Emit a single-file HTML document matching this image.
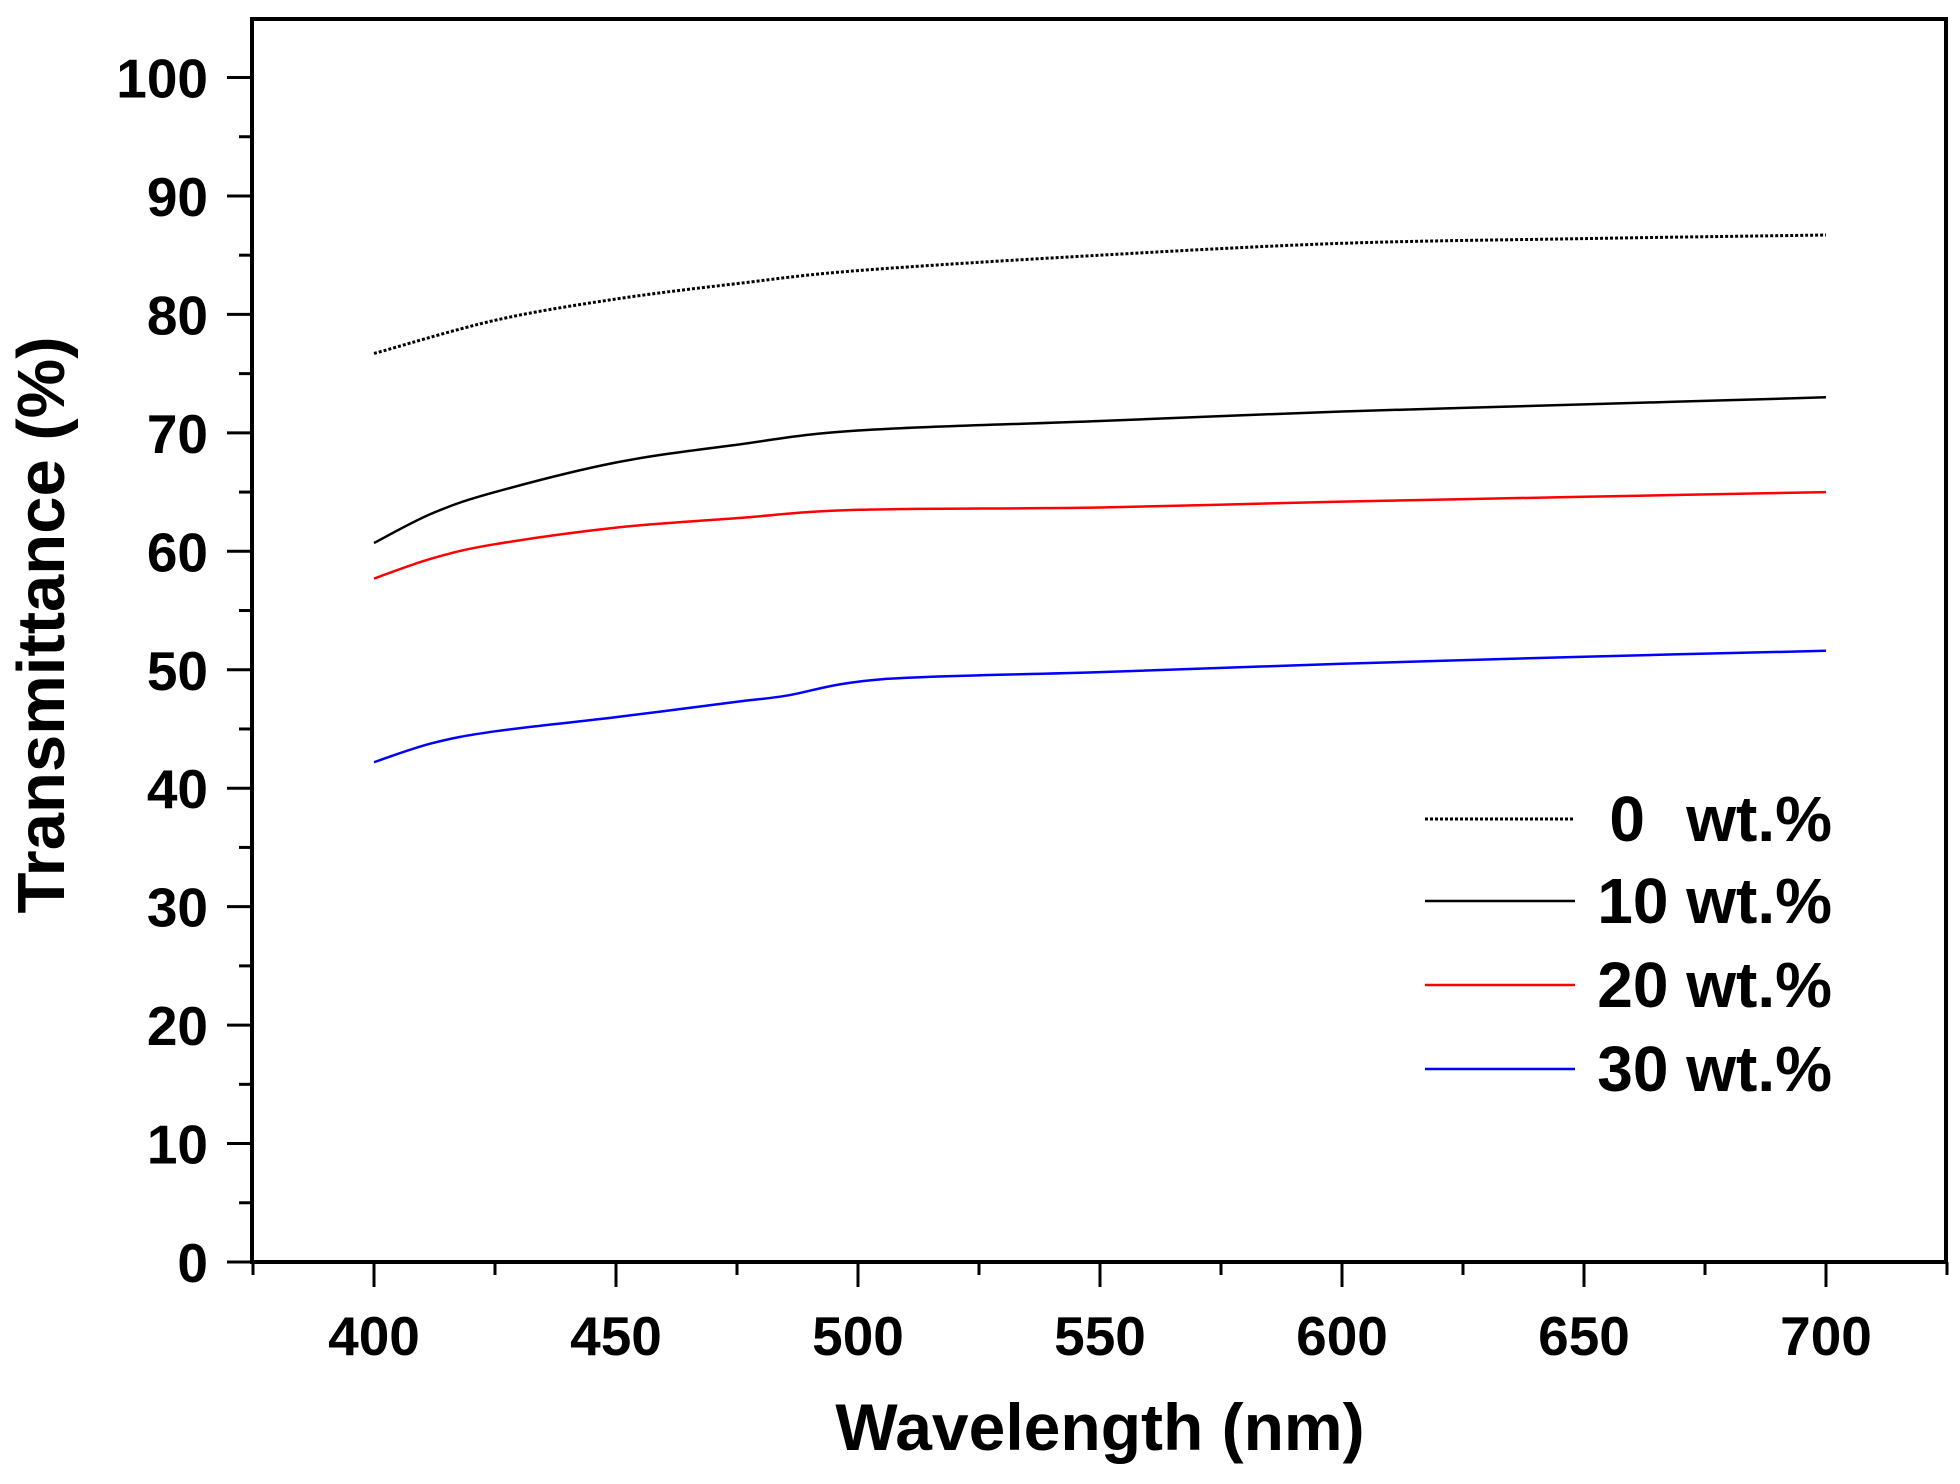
<!DOCTYPE html>
<html><head><meta charset="utf-8"><style>
html,body{margin:0;padding:0;background:#fff;}
svg{display:block;font-family:"Liberation Sans",Arial,sans-serif;font-weight:bold;}
</style></head><body>
<svg id="s" width="1960" height="1484" viewBox="0 0 1960 1484" xmlns="http://www.w3.org/2000/svg">
<rect width="1960" height="1484" fill="#fff"/>
<g id="g"></g>
<rect x="252" y="19" width="1694" height="1243" fill="none" stroke="#000" stroke-width="4"/>
<text x="1100" y="1450" font-size="66" text-anchor="middle">Wavelength (nm)</text>
<text transform="translate(64,625) rotate(-90)" font-size="67" text-anchor="middle">Transmittance (%)</text>
<g font-size="64" text-anchor="end">
<text x="1645" y="841">0</text>
<text x="1832" y="841">wt.%</text>
<text x="1832" y="923">10 wt.%</text>
<text x="1832" y="1007">20 wt.%</text>
<text x="1832" y="1091">30 wt.%</text>
</g>
<line x1="1425" y1="819" x2="1575" y2="819" stroke="#000" stroke-width="3" stroke-dasharray="3,2"/>
<line x1="1425" y1="901" x2="1575" y2="901" stroke="#000" stroke-width="2.5"/>
<line x1="1425" y1="985" x2="1575" y2="985" stroke="#f00" stroke-width="2.5"/>
<line x1="1425" y1="1069" x2="1575" y2="1069" stroke="#00f" stroke-width="2.5"/>
</svg>
<script>
var g=document.getElementById('g'),ns='http://www.w3.org/2000/svg';
function X(w){return 374+(w-400)*4.84;}function Y(v){return 1262-v*11.845;}
function el(t,a,txt){var e=document.createElementNS(ns,t);for(var k in a)e.setAttribute(k,a[k]);if(txt!=null)e.textContent=txt;g.appendChild(e);return e;}
for(var v=0;v<=100;v+=5){var y=Y(v),maj=v%10==0;el('line',{x1:252-(maj?25:13),y1:y,x2:252,y2:y,stroke:'#000','stroke-width':3});
if(maj)el('text',{x:208,y:y+20,'font-size':55,'text-anchor':'end'},v);}
for(var w=375;w<=725;w+=25){var x=X(w),maj=w%50==0;el('line',{x1:x,y1:1262,x2:x,y2:1262+(maj?25:13),stroke:'#000','stroke-width':3});
if(maj&&w>=400&&w<=700)el('text',{x:x,y:1355,'font-size':55,'text-anchor':'middle'},w);}
var S=[
['#000','3,2',[[400,76.7],[425,79.5],[450,81.3],[475,82.6],[500,83.7],[550,85],[600,86],[650,86.4],[700,86.7]]],
['#000','',[[400,60.7],[412,63.2],[425,65],[450,67.5],[475,69],[500,70.2],[550,71],[600,71.8],[650,72.4],[700,73]]],
['#f00','',[[400,57.7],[412,59.4],[425,60.6],[450,62],[475,62.8],[500,63.5],[550,63.7],[600,64.2],[650,64.6],[700,65]]],
['#00f','',[[400,42.2],[412,43.8],[425,44.8],[450,46],[475,47.3],[485,47.8],[505,49.2],[550,49.8],[600,50.5],[650,51.1],[700,51.6]]]];
S.forEach(function(s){var P=s[2].map(function(p){return[X(p[0]),Y(p[1])];});
var d='M'+P[0][0]+','+P[0][1];
for(var i=0;i<P.length-1;i++){var p0=P[i-1]||P[i],p1=P[i],p2=P[i+1],p3=P[i+2]||p2;
var c1=[p1[0]+(p2[0]-p0[0])/6,p1[1]+(p2[1]-p0[1])/6],c2=[p2[0]-(p3[0]-p1[0])/6,p2[1]-(p3[1]-p1[1])/6];
d+='C'+c1[0].toFixed(1)+','+c1[1].toFixed(1)+' '+c2[0].toFixed(1)+','+c2[1].toFixed(1)+' '+p2[0].toFixed(1)+','+p2[1].toFixed(1);}
var a={d:d,fill:'none',stroke:s[0],'stroke-width':s[1]?3:2.5};if(s[1])a['stroke-dasharray']=s[1];el('path',a);});
</script>
</body></html>
